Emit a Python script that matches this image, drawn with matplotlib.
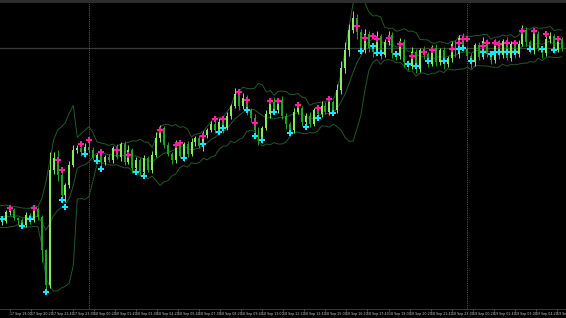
import numpy as np
import pandas as pd
import matplotlib
matplotlib.use('Agg')
import matplotlib.pyplot as plt
from matplotlib.patches import Rectangle

# M15 closes in chart points (0 = bottom of the window).
# The first N_HIST bars are history left of the window, needed for the bands.
N_HIST = 10
close = [84, 92, 78, 86, 93, 80, 76, 89, 86, 79,
         79, 88, 90, 82, 80, 75, 85, 80, 91, 83,
         50, 15,
         130, 142, 125, 105, 115, 135, 150, 152, 148, 153, 150, 142, 145, 138, 143,
         140, 152, 143, 156, 138, 150, 132, 140, 128, 142, 130, 145, 162, 172, 155, 146, 140, 156, 144,
         156, 146, 158, 162, 154, 165, 170, 176, 170, 178,
         172, 184, 194, 206, 194, 202, 190, 182, 170, 160,
         172, 186, 198, 190, 200, 184, 176, 170, 188, 192,
         178, 184, 176, 190, 186, 194, 188, 198, 190,
         210, 232, 250, 270, 282, 268,
         250, 266, 252, 248, 264, 245, 258, 265, 247, 244,
         258, 238, 234, 248, 231, 250, 246, 236, 252, 238,
         250, 236,
         242, 256, 246, 262, 251, 244, 238, 255, 243, 259,
         246, 240, 257, 245, 259, 242, 256, 246,
         256, 270, 258, 250, 266, 252, 247, 261, 264, 250, 261, 252]
wick_up = [2, 3, 1, 2, 3, 2, 2, 3, 2, 2,
           3, 2, 4, 2, 1, 2, 3, 2, 4, 2,
           2, 1,
           18, 6, 8, 3, 2, 4, 5, 3, 2, 4, 5, 3, 2, 4, 2,
           3, 2, 4, 2, 3, 5, 2, 3, 2, 3, 2, 4, 6, 3, 2, 3, 2, 4, 3,
           2, 3, 4, 2, 3, 4, 2, 3, 5, 4,
           3, 4, 2, 6, 3, 5, 3, 2, 4, 3,
           2, 4, 3, 5, 2, 4, 3, 2, 4, 3,
           2, 3, 4, 2, 3, 5, 4, 3, 2,
           6, 7, 8, 6, 7, 4, 3, 5, 3, 4,
           5, 2, 3, 4, 3, 2, 4, 3, 2, 5,
           3, 2, 4, 2, 3, 4, 2, 3, 2, 3,
           4, 3, 5, 2, 3, 2, 3, 4, 2, 3,
           4, 3, 2, 4, 3, 2, 4, 5, 3, 2,
           4, 3, 2, 3, 4, 2, 3, 2]
wick_dn = [3, 2, 2, 3, 2, 2, 3, 2, 3, 2,
           4, 2, 3, 2, 5, 3, 2, 4, 2, 3,
           12, 9,
           3, 4, 6, 8, 7, 3, 2, 3, 4, 5, 3, 2, 4, 6, 3,
           2, 3, 2, 4, 3, 2, 5, 6, 3, 5, 2, 3, 2, 4, 3, 2, 4, 3, 2,
           5, 3, 2, 4, 2, 5, 3, 2, 3, 4,
           5, 2, 3, 2, 4, 3, 5, 4, 6, 5,
           3, 2, 4, 2, 3, 3, 5, 6, 3, 2,
           4, 5, 3, 2, 4, 3, 2, 3, 5,
           3, 4, 5, 6, 3, 7, 4, 3, 4, 5,
           3, 4, 2, 3, 5, 4, 3, 5, 4, 3,
           4, 3, 5, 3, 2, 4, 3, 5, 3, 4,
           3, 4, 2, 3, 6, 4, 3, 2, 3, 4,
           3, 4, 3, 2, 3, 4, 3, 2, 4, 3,
           4, 3, 5, 3, 4, 3, 2, 3]

# fractal-style signal marks (bar index, level)
pink_bar = [2, 8, 14, 15, 20, 22, 25, 29, 32, 40, 44, 45, 51, 54, 56, 60, 62, 64, 68, 70,
            75, 80, 83, 90, 92, 94, 95, 98, 101, 104, 107, 109, 114, 116, 117, 118, 122,
            123, 125, 126, 128, 130, 132, 135, 138, 141]
pink_val = [92, 92, 140, 130, 156, 160, 148, 150, 145, 170, 155, 157, 164, 181, 181, 208,
            200, 177, 199, 199, 195, 192, 201, 274, 262, 264, 261, 262, 256, 244, 248, 250,
            251, 257, 261, 261, 254, 257, 257, 256, 257, 257, 269, 269, 266, 261]
cyan_bar = [0, 5, 7, 11, 15, 16, 21, 24, 25, 34, 36, 46, 51, 55, 56, 62, 64, 66, 69, 73,
            77, 80, 84, 91, 94, 95, 96, 100, 103, 105, 108, 112, 116, 117, 119, 122, 124,
            125, 126, 128, 130, 134, 137, 140]
cyan_val = [81, 74, 81, 8, 100, 93, 146, 139, 131, 128, 124, 142, 156, 168, 172, 190, 164,
            160, 188, 167, 173, 182, 187, 249, 254, 247, 247, 246, 236, 234, 239, 239, 251,
            252, 239, 248, 246, 248, 248, 248, 248, 251, 251, 250]

first_bar = pd.Timestamp('2020-09-17 18:30')
tick_times = pd.date_range('2020-09-17 19:00', periods=27, freq='80min')
separators = [pd.Timestamp('2020-09-18 00:00'), pd.Timestamp('2020-09-19 00:00')]
price_line = 252
BB_PERIOD = 8
BB_DEV = 2

UP_COL = '#86ec5e'
DN_COL = '#1fa51f'
BAND_COL = '#21582c'


def to_bar(t):
    return (t - first_bar) / pd.Timedelta(minutes=15)


close = np.array(close, dtype=float)
opn = np.r_[close[0], close[:-1]]
high = np.maximum(opn, close) + np.array(wick_up)
low = np.minimum(opn, close) - np.array(wick_dn)
x = np.arange(len(close)) - N_HIST

s = pd.Series(close)
mid = s.rolling(BB_PERIOD).mean()
sd = s.rolling(BB_PERIOD).std(ddof=0)
upper = mid + BB_DEV * sd
lower = mid - BB_DEV * sd

fig = plt.figure(figsize=(5.66, 3.18), dpi=100, facecolor='black')
ax = fig.add_axes([0, 9 / 318, 1, 1 - 12 / 318])
ax.set_facecolor('black')

# grey strip on top of the window
fig.add_artist(Rectangle((0, 1 - 2.5 / 318), 1, 2.5 / 318, transform=fig.transFigure,
                         color='#2d2d2d', lw=0))

ax.axhline(price_line, color='#3b3b3b', lw=0.9, zorder=1)
for t in separators:
    ax.axvline(to_bar(t), color='#6e6e6e', lw=0.6, ls=(0, (1, 1.2)), zorder=1)

for band in (upper, mid, lower):
    ax.plot(x, band, color=BAND_COL, lw=0.7, zorder=2)

up = close >= opn
cols = np.where(up, UP_COL, DN_COL)
ax.vlines(x, low, high, colors=cols, lw=0.7, zorder=3)
body = np.maximum(np.abs(close - opn), 0.8)
ax.bar(x, body, bottom=np.minimum(opn, close), width=0.5, color=cols, lw=0, zorder=3)

ax.plot(pink_bar, pink_val, 'P', color='#ff1e9e', ms=4.5, mew=0, zorder=4)
ax.plot(cyan_bar, cyan_val, 'P', color='#1ee3ff', ms=4.5, mew=0, zorder=4)

ax.set_xlim(-0.61, 143.05)
ax.set_ylim(-9, 297)
ax.set_yticks([])
pos = [to_bar(t) for t in tick_times]
labels = [t.strftime('%d %b %H:%M').lstrip('0') for t in tick_times]
ax.set_xticks(pos)
ax.set_xticklabels(labels, fontsize=2.3, color='#c4c4c4', ha='left')
ax.tick_params(axis='x', length=1.5, width=0.4, color='#808080', pad=1)
for side in ['top', 'left', 'right']:
    ax.spines[side].set_visible(False)
ax.spines['bottom'].set_color('#505050')
ax.spines['bottom'].set_linewidth(0.5)

fig.savefig('out.png', dpi=100, facecolor='black')
